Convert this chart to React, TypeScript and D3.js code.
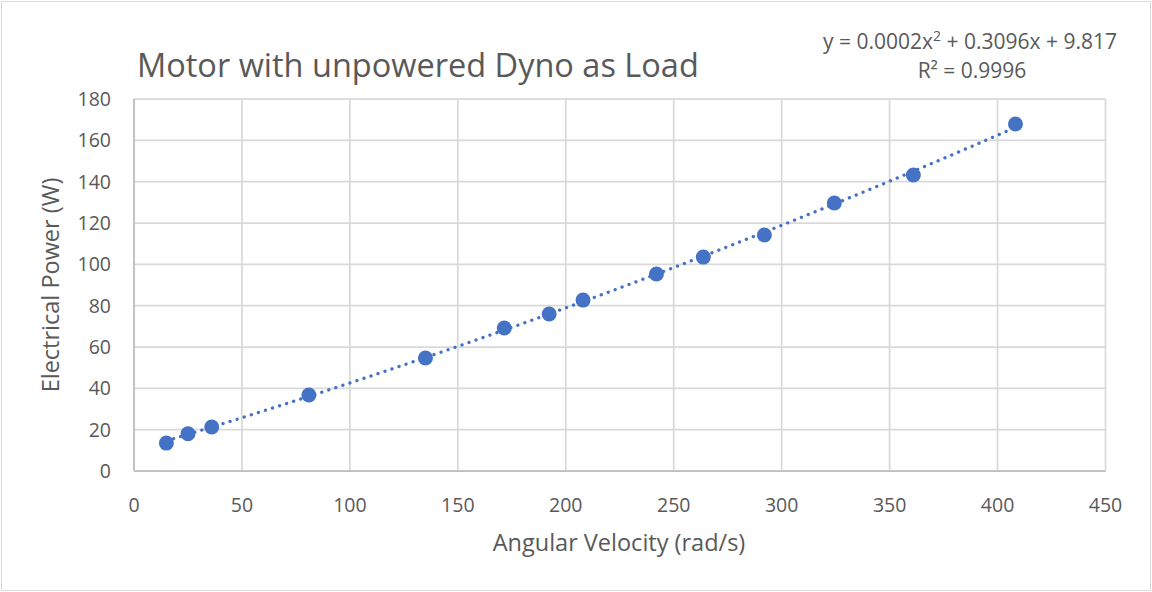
import React from "react";
import * as d3 from "d3";

const angularVelocity = [15, 25, 36, 81, 135, 171.5, 192.3, 208, 242, 263.7, 292, 324.4, 361, 408.3];
const electricalPower = [13.5, 18, 21.3, 36.8, 54.7, 69.2, 76, 82.7, 95.3, 103.5, 114.2, 129.7, 143.2, 167.9];
const xTicks = [0, 50, 100, 150, 200, 250, 300, 350, 400, 450];
const yTicks = [0, 20, 40, 60, 80, 100, 120, 140, 160, 180];

const W = 1152, H = 592;
const FONT = "'Open Sans', sans-serif";
const TXT = "#595959";

// least-squares quadratic fit (polynomial trendline of order 2)
function polyFit2(xs: number[], ys: number[]): number[] {
  const S = (p: number) => d3.sum(xs, v => Math.pow(v, p));
  const T = (p: number) => d3.sum(xs, (v, i) => Math.pow(v, p) * ys[i]);
  const A = [
    [S(4), S(3), S(2), T(2)],
    [S(3), S(2), S(1), T(1)],
    [S(2), S(1), xs.length, T(0)],
  ];
  for (let i = 0; i < 3; i++) {
    for (let k = i + 1; k < 3; k++) {
      const f = A[k][i] / A[i][i];
      for (let j = i; j < 4; j++) A[k][j] -= f * A[i][j];
    }
  }
  const r = [0, 0, 0];
  for (let i = 2; i >= 0; i--) {
    let s = A[i][3];
    for (let j = i + 1; j < 3; j++) s -= A[i][j] * r[j];
    r[i] = s / A[i][i];
  }
  return r; // [a, b, c] for a x^2 + b x + c
}

export default function App() {
  const x = d3.scaleLinear().domain([0, 450]).range([134, 1105.5]);
  const y = d3.scaleLinear().domain([0, 180]).range([471, 99]);
  const [a, b, c] = polyFit2(angularVelocity, electricalPower);
  const xmin = d3.min(angularVelocity)!, xmax = d3.max(angularVelocity)!;
  const trendX = d3.range(0, 101).map(i => xmin + (xmax - xmin) * i / 100);
  const line = d3.line<number>().x(v => x(v)).y(v => y(a * v * v + b * v + c));
  return (
    <svg width={W} height={H} style={{ position: "absolute", left: 0, top: 0 }}>
      <rect x={1.5} y={1.5} width={W - 3} height={H - 3} fill="white" stroke="#d9d9d9" strokeWidth={1} />
      {yTicks.map(t => (
        <line key={"gy" + t} x1={x(0)} x2={x(450)} y1={y(t)} y2={y(t)} stroke="#d9d9d9" strokeWidth={1.75} />
      ))}
      {xTicks.map(t => (
        <line key={"gx" + t} x1={x(t)} x2={x(t)} y1={y(0)} y2={y(180)} stroke="#d9d9d9" strokeWidth={1.75} />
      ))}
      <line x1={x(0)} x2={x(0)} y1={y(0)} y2={y(180)} stroke="#bfbfbf" strokeWidth={1.75} />
      <line x1={x(0)} x2={x(450)} y1={y(0)} y2={y(0)} stroke="#bfbfbf" strokeWidth={1.75} />
      {yTicks.map(t => (
        <text key={"ty" + t} x={111} y={y(t)} dy="0.36em" textAnchor="end" fontFamily={FONT} fontSize={19.5} fill={TXT}>{t}</text>
      ))}
      {xTicks.map(t => (
        <text key={"tx" + t} x={x(t)} y={512} textAnchor="middle" fontFamily={FONT} fontSize={19.5} fill={TXT}>{t}</text>
      ))}
      <path d={line(trendX)!} fill="none" stroke="#4472C4" strokeWidth={3.3} strokeDasharray="0.1 7.3" strokeLinecap="round" />
      {angularVelocity.map((v, i) => (
        <circle key={"p" + i} cx={x(v)} cy={y(electricalPower[i])} r={7.5} fill="#4472C4" />
      ))}
      <text x={137} y={77} fontFamily={FONT} fontSize={32.5} fill={TXT}>Motor with unpowered Dyno as Load</text>
      <text x={619} y={551} textAnchor="middle" fontFamily={FONT} fontSize={23.5} fill={TXT}>Angular Velocity (rad/s)</text>
      <text transform={`translate(59,${y(90)}) rotate(-90)`} textAnchor="middle" fontFamily={FONT} fontSize={23.5} fill={TXT}>Electrical Power (W)</text>
      <text x={970} y={49} textAnchor="middle" fontFamily={FONT} fontSize={21} fill={TXT}>
        y = 0.0002x<tspan dy={-8} fontSize={14}>2</tspan><tspan dy={8}> + 0.3096x + 9.817</tspan>
      </text>
      <text x={972} y={78} textAnchor="middle" fontFamily={FONT} fontSize={21} fill={TXT}>R² = 0.9996</text>
    </svg>
  );
}
